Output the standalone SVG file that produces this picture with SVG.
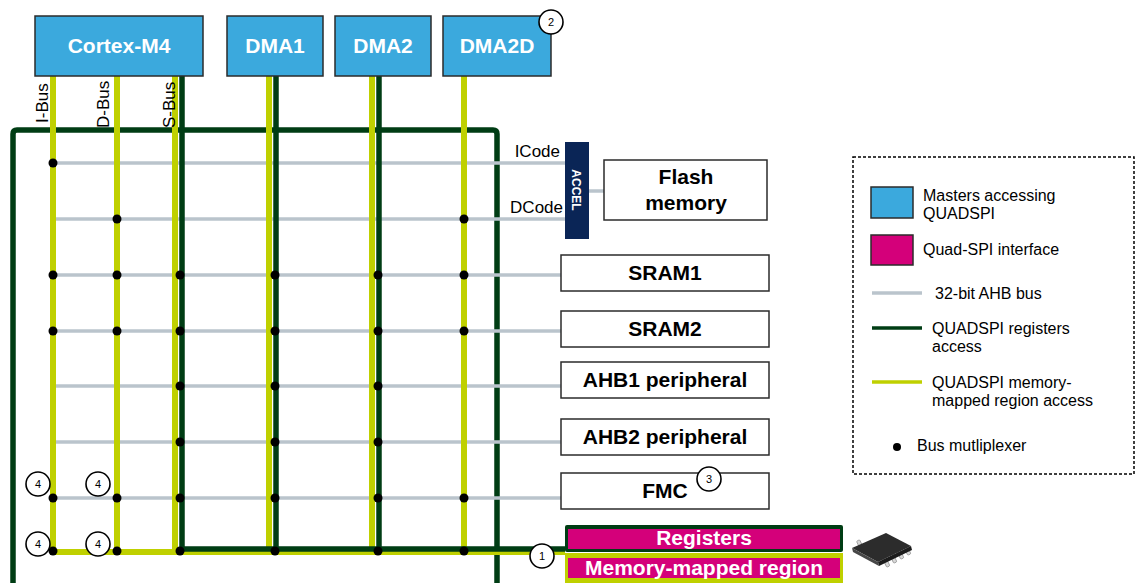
<svg xmlns="http://www.w3.org/2000/svg" width="1136" height="583" viewBox="0 0 1136 583">
<style>
.master{fill:#3BA9DD;stroke:#2b2b2b;stroke-width:1.5}
.mt{font-family:"Liberation Sans",Arial,sans-serif;font-weight:bold;font-size:21px;fill:#fff;text-anchor:middle}
.box{fill:#fff;stroke:#2b2b2b;stroke-width:1.5}
.bt{font-family:"Liberation Sans",Arial,sans-serif;font-weight:bold;font-size:21px;fill:#000;text-anchor:middle}
.ahb{stroke:#BAC4CC;stroke-width:3.5;fill:none}
.reg{stroke:#003D14;stroke-width:5.5;fill:none}
.mem{stroke:#BFD000;stroke-width:6;fill:none}
.dot{fill:#000}
.lbl{font-family:"Liberation Sans",Arial,sans-serif;font-size:17px;fill:#000}
.lg{font-family:"Liberation Sans",Arial,sans-serif;font-size:16px;fill:#000}
.num circle{fill:#fff;stroke:#000;stroke-width:1.6}
.num text{font-family:"Liberation Sans",Arial,sans-serif;font-size:11px;fill:#000;text-anchor:middle}
</style>
<rect width="1136" height="583" fill="#fff"/>

<g id="connectors">
  <path class="reg" d="M13,583 V134 Q13,130 17,130 H493 Q497,130 497,134 V583"/>
  <line class="ahb" x1="53" y1="163" x2="565" y2="163"/>
  <line class="ahb" x1="56" y1="219" x2="565" y2="219"/>
  <line class="ahb" x1="589" y1="191" x2="604" y2="191"/>
  <line class="ahb" x1="53" y1="275" x2="561" y2="275"/>
  <line class="ahb" x1="53" y1="331" x2="561" y2="331"/>
  <line class="ahb" x1="56" y1="386" x2="561" y2="386"/>
  <line class="ahb" x1="56" y1="442" x2="561" y2="442"/>
  <line class="ahb" x1="53" y1="498" x2="561" y2="498"/>
  <path class="mem" d="M53,76 V552 H565"/>
  <line class="mem" x1="117" y1="76" x2="117" y2="552"/>
  <line class="mem" x1="175" y1="76" x2="175" y2="552"/>
  <line class="mem" x1="269" y1="76" x2="269" y2="552"/>
  <line class="mem" x1="372" y1="76" x2="372" y2="552"/>
  <line class="mem" x1="464" y1="76" x2="464" y2="552"/>
  <path class="reg" d="M182,76 V549 H565"/>
  <line class="reg" x1="276" y1="76" x2="276" y2="549"/>
  <line class="reg" x1="379" y1="76" x2="379" y2="549"/>
  <g class="dot">
    <circle cx="53" cy="163" r="4.5"/>
    <circle cx="117" cy="219" r="4.5"/><circle cx="464" cy="219" r="4.5"/>
    <circle cx="53" cy="275" r="4.5"/><circle cx="117" cy="275" r="4.5"/><circle cx="180" cy="275" r="4.5"/><circle cx="275" cy="275" r="4.5"/><circle cx="378" cy="275" r="4.5"/><circle cx="464" cy="275" r="4.5"/>
    <circle cx="53" cy="331" r="4.5"/><circle cx="117" cy="331" r="4.5"/><circle cx="180" cy="331" r="4.5"/><circle cx="275" cy="331" r="4.5"/><circle cx="378" cy="331" r="4.5"/><circle cx="464" cy="331" r="4.5"/>
    <circle cx="180" cy="386" r="4.5"/><circle cx="275" cy="386" r="4.5"/><circle cx="378" cy="386" r="4.5"/>
    <circle cx="180" cy="442" r="4.5"/><circle cx="275" cy="442" r="4.5"/><circle cx="378" cy="442" r="4.5"/>
    <circle cx="53" cy="498" r="4.5"/><circle cx="117" cy="498" r="4.5"/><circle cx="180" cy="498" r="4.5"/><circle cx="275" cy="498" r="4.5"/><circle cx="378" cy="498" r="4.5"/><circle cx="464" cy="498" r="4.5"/>
    <circle cx="53" cy="551" r="4.5"/><circle cx="117" cy="551" r="4.5"/><circle cx="180" cy="551" r="4.5"/><circle cx="275" cy="551" r="4.5"/><circle cx="378" cy="551" r="4.5"/><circle cx="464" cy="551" r="4.5"/>
  </g>
  <text class="lbl" transform="translate(48,123) rotate(-90)">I-Bus</text>
  <text class="lbl" transform="translate(109,128) rotate(-90)">D-Bus</text>
  <text class="lbl" transform="translate(175,128) rotate(-90)">S-Bus</text>
  <text class="lbl" x="560" y="157" text-anchor="end">ICode</text>
  <text class="lbl" x="563" y="213" text-anchor="end">DCode</text>
</g>

<g id="cortex-m4"><rect class="master" x="35" y="16" width="168" height="60"/><text class="mt" x="119" y="53">Cortex-M4</text></g>
<g id="dma1"><rect class="master" x="227" y="16" width="96" height="60"/><text class="mt" x="275" y="53">DMA1</text></g>
<g id="dma2"><rect class="master" x="335" y="16" width="96" height="60"/><text class="mt" x="383" y="53">DMA2</text></g>
<g id="dma2d"><rect class="master" x="443" y="16" width="108" height="60"/><text class="mt" x="497" y="53">DMA2D</text></g>

<g id="accel"><rect x="565" y="142" width="24" height="97" fill="#0A2556"/>
  <text transform="translate(572,190) rotate(90)" font-family="Liberation Sans,Arial,sans-serif" font-weight="bold" font-size="12" fill="#fff" text-anchor="middle">ACCEL</text></g>
<g id="flash"><rect class="box" x="604" y="160" width="163" height="60"/><text class="bt" x="686" y="184">Flash</text><text class="bt" x="686" y="210">memory</text></g>
<g id="sram1"><rect class="box" x="561" y="255" width="208" height="36"/><text class="bt" x="665" y="280">SRAM1</text></g>
<g id="sram2"><rect class="box" x="561" y="311" width="208" height="36"/><text class="bt" x="665" y="336">SRAM2</text></g>
<g id="ahb1"><rect class="box" x="561" y="362" width="208" height="36"/><text class="bt" x="665" y="387">AHB1 peripheral</text></g>
<g id="ahb2"><rect class="box" x="561" y="419" width="208" height="36"/><text class="bt" x="665" y="444">AHB2 peripheral</text></g>
<g id="fmc"><rect class="box" x="561" y="473" width="208" height="36"/><text class="bt" x="665" y="498">FMC</text></g>

<g id="quadspi">
  <rect x="565" y="525" width="278" height="27" rx="2" fill="#003D14"/>
  <rect x="568" y="529" width="272" height="20" fill="#D4007A"/>
  <text x="704" y="545" font-family="Liberation Sans,Arial,sans-serif" font-weight="bold" font-size="21" fill="#fff" text-anchor="middle">Registers</text>
  <rect x="565" y="553" width="278" height="32" fill="#BFD000"/>
  <rect x="568" y="558" width="272" height="20" fill="#D4007A"/>
  <text x="704" y="575" font-family="Liberation Sans,Arial,sans-serif" font-weight="bold" font-size="21" fill="#fff" text-anchor="middle">Memory-mapped region</text>
</g>

<g id="chip">
  <g fill="#d8d8d8" stroke="#8a8a8a" stroke-width="0.7">
    <rect x="884" y="556" width="3.5" height="11" rx="1" transform="rotate(-25 886 561)"/>
    <rect x="891" y="552" width="3.5" height="11" rx="1" transform="rotate(-25 893 557)"/>
    <rect x="898" y="548" width="3.5" height="11" rx="1" transform="rotate(-25 900 553)"/>
    <rect x="905" y="544" width="3.5" height="11" rx="1" transform="rotate(-25 907 549)"/>
    <rect x="858" y="540" width="3.5" height="8" rx="1" transform="rotate(-25 860 544)"/>
  </g>
  <polygon points="852,548 886,533 911,546 878,562" fill="#2c2c2c"/>
  <polygon points="852,548 878,562 879,566 853,552" fill="#474747"/>
  <polygon points="878,562 911,546 912,550 879,566" fill="#1c1c1c"/>
</g>

<g id="markers" class="num">
  <g><circle cx="551" cy="22" r="12"/><text x="551" y="26">2</text></g>
  <g><circle cx="709" cy="479" r="12"/><text x="709" y="483">3</text></g>
  <g><circle cx="542" cy="556" r="12"/><text x="542" y="560">1</text></g>
  <g><circle cx="38" cy="484" r="12"/><text x="38" y="488">4</text></g>
  <g><circle cx="98" cy="484" r="12"/><text x="98" y="488">4</text></g>
  <g><circle cx="38" cy="544" r="12"/><text x="38" y="548">4</text></g>
  <g><circle cx="98" cy="544" r="12"/><text x="98" y="548">4</text></g>
</g>

<g id="legend">
  <rect x="853" y="157" width="281" height="317" fill="none" stroke="#000" stroke-width="1.5" stroke-dasharray="3,2"/>
  <rect x="871" y="187" width="42" height="31" class="master"/>
  <text class="lg" x="923" y="201">Masters accessing</text>
  <text class="lg" x="923" y="219">QUADSPI</text>
  <rect x="871" y="235" width="42" height="30" fill="#D4007A" stroke="#2b2b2b" stroke-width="1.5"/>
  <text class="lg" x="923" y="255">Quad-SPI interface</text>
  <line x1="872" y1="293" x2="922" y2="293" stroke="#BAC4CC" stroke-width="3.5"/>
  <text class="lg" x="935" y="299">32-bit AHB bus</text>
  <line x1="872" y1="328" x2="922" y2="328" stroke="#003D14" stroke-width="3.5"/>
  <text class="lg" x="932" y="334">QUADSPI registers</text>
  <text class="lg" x="932" y="352">access</text>
  <line x1="872" y1="382" x2="922" y2="382" stroke="#BFD000" stroke-width="3.5"/>
  <text class="lg" x="932" y="388">QUADSPI memory-</text>
  <text class="lg" x="932" y="406">mapped region access</text>
  <circle cx="897" cy="447" r="4" fill="#000"/>
  <text class="lg" x="917" y="451">Bus mutliplexer</text>
</g>
</svg>
